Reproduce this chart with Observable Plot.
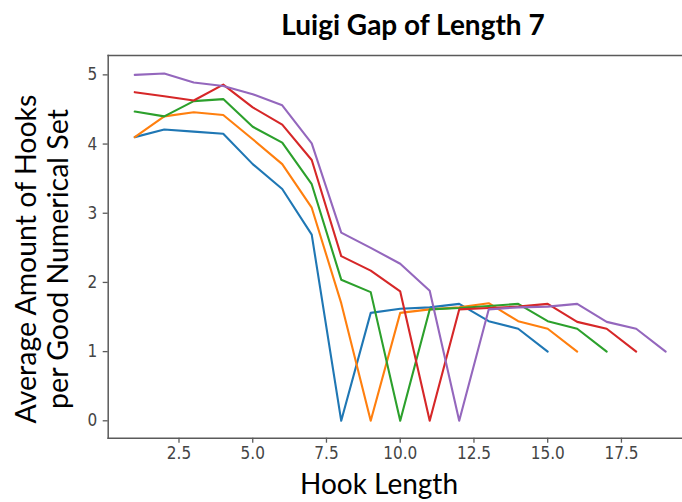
<!DOCTYPE html>
<html>
<head>
<meta charset="utf-8">
<script src="https://cdn.jsdelivr.net/npm/d3@7"></script>
<script src="https://cdn.jsdelivr.net/npm/@observablehq/plot@0.6"></script>
<style>
  html, body { margin: 0; padding: 0; background: #fff; }
  #chart { width: 682px; height: 502px; overflow: hidden; }
</style>
</head>
<body>
<div id="chart"></div>
<script>
const seriesNames = ["A", "B", "C", "D", "E"];
const seriesColors = ["#1f77b4", "#ff7f0e", "#2ca02c", "#d62728", "#9467bd"];
const blue   = [4.10, 4.21, 4.18, 4.15, 3.71, 3.35, 2.69, 0.00, 1.56, 1.62, 1.64, 1.69, 1.44, 1.33, 1.00];
const orange = [4.10, 4.40, 4.46, 4.42, 4.07, 3.71, 3.08, 1.70, 0.00, 1.56, 1.61, 1.64, 1.70, 1.44, 1.33, 1.00];
const green  = [4.47, 4.40, 4.62, 4.65, 4.25, 4.02, 3.42, 2.04, 1.86, 0.00, 1.61, 1.63, 1.66, 1.69, 1.44, 1.33, 1.00];
const red    = [4.75, 4.69, 4.63, 4.86, 4.53, 4.28, 3.77, 2.38, 2.17, 1.87, 0.00, 1.61, 1.63, 1.65, 1.69, 1.43, 1.33, 1.00];
const purple = [5.00, 5.02, 4.89, 4.84, 4.72, 4.56, 4.01, 2.72, 2.50, 2.27, 1.88, 0.00, 1.61, 1.64, 1.65, 1.69, 1.43, 1.33, 1.00];
const xTicks = [2.5, 5.0, 7.5, 10.0, 12.5, 15.0, 17.5];
const yTicks = [0, 1, 2, 3, 4, 5];
const titleText = "Luigi Gap of Length 7";
const xLabel = "Hook Length";
const yLabelLines = ["Average Amount of Hooks", "per Good Numerical Set"];

const allSeries = [blue, orange, green, red, purple];
const rows = allSeries.flatMap((vals, s) => vals.map((v, i) => ({series: seriesNames[s], x: i + 1, y: v})));

const spine = "#5a5a5a";
const tickFont = "'DejaVu Sans Condensed', 'DejaVu Sans', sans-serif";
const plot = Plot.plot({
  width: 682,
  height: 502,
  marginTop: 55,
  marginLeft: 107.7,
  marginRight: 0,
  marginBottom: 64.3,
  style: {background: "#fff", overflow: "hidden"},
  x: {domain: [0.1, 19.57]},
  y: {domain: [-0.2515, 5.28]},
  color: {domain: seriesNames, range: seriesColors},
  marks: [
    Plot.frame({anchor: "top", stroke: spine, strokeWidth: 1.5, strokeOpacity: 1}),
    Plot.frame({anchor: "left", stroke: spine, strokeWidth: 1.5, strokeOpacity: 1}),
    Plot.frame({anchor: "bottom", stroke: spine, strokeWidth: 1.5, strokeOpacity: 1}),
    Plot.axisX({ticks: xTicks, tickFormat: d => d.toFixed(1), tickSize: 5, tickPadding: 4, stroke: spine, strokeWidth: 1.3,
      fill: "#444", label: null}),
    Plot.axisY({ticks: yTicks, tickFormat: d => String(d), tickSize: 5, tickPadding: 6, stroke: spine, strokeWidth: 1.3,
      fill: "#444", label: null}),
    Plot.line(rows, {x: "x", y: "y", z: "series", stroke: "series", strokeWidth: 2.1, strokeLinejoin: "round"})
  ]
});

const svg = d3.select(plot);
svg.selectAll("text").style("font-size", "17px").style("font-family", tickFont);

svg.append("text")
  .attr("x", 413).attr("y", 35)
  .attr("text-anchor", "middle")
  .attr("font-family", "Lato, 'Open Sans', sans-serif")
  .attr("font-weight", "bold")
  .attr("font-size", 28)
  .attr("fill", "#000")
  .text(titleText);
svg.append("text")
  .attr("x", 379).attr("y", 494)
  .attr("text-anchor", "middle")
  .attr("font-family", "Lato, 'Open Sans', sans-serif")
  .attr("font-size", 28)
  .attr("fill", "#000")
  .text(xLabel);
yLabelLines.forEach((line, i) => {
  svg.append("text")
    .attr("transform", `translate(${36 + i * 32},259) rotate(-90)`)
    .attr("text-anchor", "middle")
    .attr("font-family", "Lato, 'Open Sans', sans-serif")
    .attr("font-size", 28.5)
    .attr("fill", "#000")
    .text(line);
});

document.getElementById("chart").appendChild(plot);
</script>
</body>
</html>
